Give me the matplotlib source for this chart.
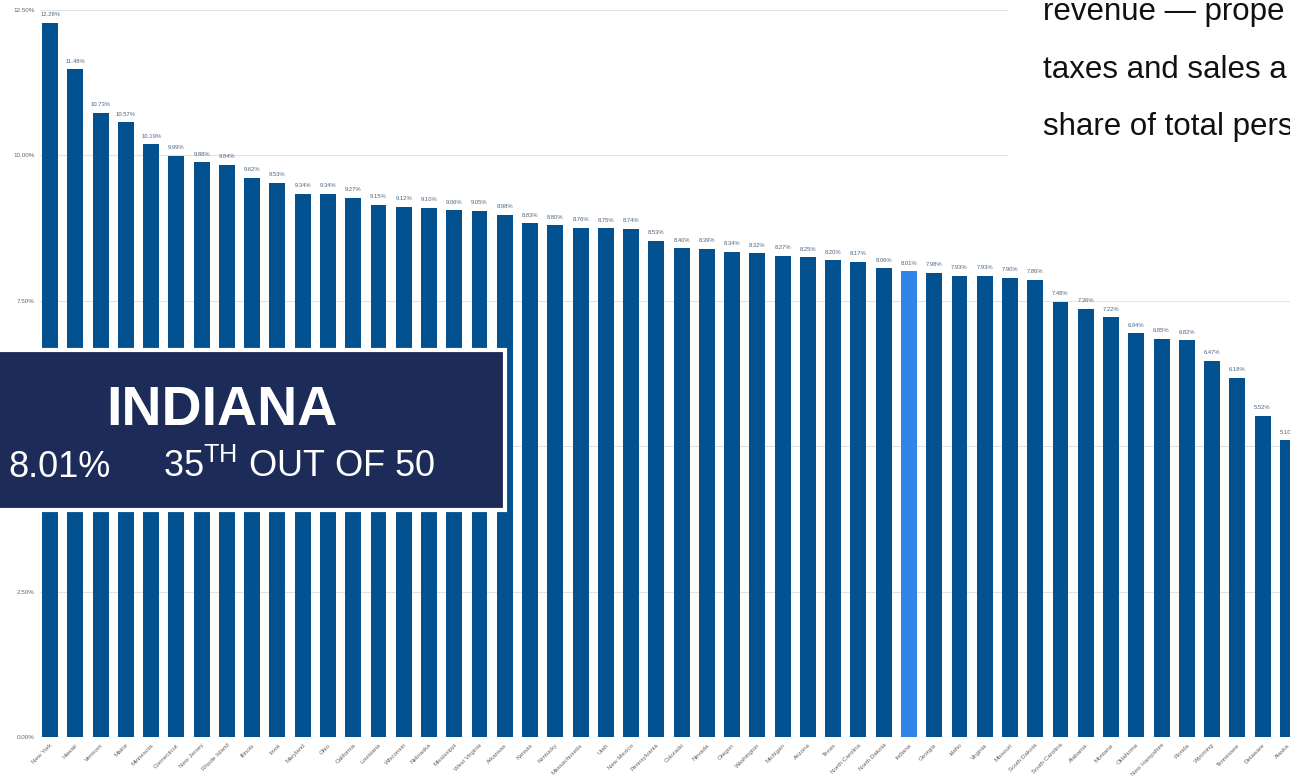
import numpy as np
import matplotlib
matplotlib.use('Agg')
import matplotlib.pyplot as plt
from matplotlib.patches import Rectangle

plt.rcParams['font.family'] = ['Liberation Sans', 'DejaVu Sans']
plt.rcParams['mathtext.fontset'] = 'custom'
plt.rcParams['mathtext.rm'] = 'Liberation Sans'

# States ranked by state+local tax share of personal income
states = ['New York', 'Hawaii', 'Vermont', 'Maine', 'Minnesota', 'Connecticut',
	'New Jersey', 'Rhode Island', 'Illinois', 'Iowa', 'Maryland', 'Ohio',
	'California', 'Louisiana', 'Wisconsin', 'Nebraska', 'Mississippi',
	'West Virginia', 'Arkansas', 'Kansas', 'Kentucky', 'Massachusetts', 'Utah',
	'New Mexico', 'Pennsylvania', 'Colorado', 'Nevada', 'Oregon', 'Washington',
	'Michigan', 'Arizona', 'Texas', 'North Carolina', 'North Dakota', 'Indiana',
	'Georgia', 'Idaho', 'Virginia', 'Missouri', 'South Dakota', 'South Carolina',
	'Alabama', 'Montana', 'Oklahoma', 'New Hampshire', 'Florida', 'Wyoming',
	'Tennessee', 'Delaware', 'Alaska']
values = [12.28, 11.48, 10.73, 10.57, 10.19, 9.99, 9.88, 9.84, 9.62, 9.53,
	9.34, 9.34, 9.27, 9.15, 9.12, 9.10, 9.06, 9.05, 8.98, 8.83,
	8.80, 8.76, 8.75, 8.74, 8.53, 8.40, 8.39, 8.34, 8.32, 8.27,
	8.25, 8.20, 8.17, 8.06, 8.01, 7.98, 7.93, 7.93, 7.90, 7.86,
	7.48, 7.36, 7.22, 6.94, 6.85, 6.82, 6.47, 6.18, 5.52, 5.10]
yticks = [0, 2.5, 5, 7.5, 10, 12.5]
highlight = 'Indiana'

W, H = 1290, 776
fig = plt.figure(figsize=(W/100, H/100), dpi=100)
ax = fig.add_axes([40/W, 39/H, 1263/W, 727/H])

colors = ['#3085e6' if s == highlight else '#03518f' for s in states]
x = np.arange(len(states))
ax.bar(x, values, width=0.63, color=colors, zorder=3)

for xi, v in zip(x, values):
	ax.annotate('%.2f%%' % v, xy=(xi, v), xytext=(0, 4), textcoords='offset points',
		ha='center', va='bottom', fontsize=4.2, color='#4d6580')

ax.set_xlim(-0.4, 49.6)
ax.set_ylim(0, 12.5)
ax.set_yticks(yticks)
ax.set_yticklabels(['%.2f%%' % t for t in yticks])
ax.set_xticks(x)
ax.set_xticklabels(states, rotation=45, ha='right', rotation_mode='anchor')
ax.tick_params(axis='both', length=0, labelsize=4.5, labelcolor='#666666')
ax.tick_params(axis='y', pad=4)
ax.tick_params(axis='x', pad=4)
ax.grid(axis='y', color='#e3e3e3', lw=0.8, zorder=0)
for sp in ax.spines.values():
	sp.set_visible(False)
ax.axhline(0, color='#cccccc', lw=0.8, zorder=2)

# white panel with the article text, top right
fig.add_artist(Rectangle((1008/W, 1 - 200/H), 290/W, 200/H, transform=fig.transFigure,
	facecolor='white', edgecolor='none', zorder=5))
lines = ['revenue \u2014 prope', 'taxes and sales a', 'share of total pers']
for i, line in enumerate(lines):
	fig.text(1043/W, 1 - (20 + 57.5*i)/H, line, fontsize=22.5, color='#111111',
		va='baseline', ha='left', zorder=6)

# Indiana callout box
fig.add_artist(Rectangle((-10/W, 1 - 510/H), 515/W, 160/H, transform=fig.transFigure,
	facecolor='#1c2b57', edgecolor='white', lw=3, zorder=7))
fig.text(222/W, 1 - 425/H, 'INDIANA', fontsize=40, fontweight='bold', color='white',
	ha='center', va='baseline', zorder=8)
fig.text(8/W, 1 - 477/H, '8.01%', fontsize=26, color='white', ha='left', va='baseline', zorder=8)
fig.text(163/W, 1 - 477/H, r'35$^{\mathrm{TH}}$ OUT OF 50', fontsize=26, color='white',
	ha='left', va='baseline', zorder=8)

fig.savefig('out.png', dpi=100)
